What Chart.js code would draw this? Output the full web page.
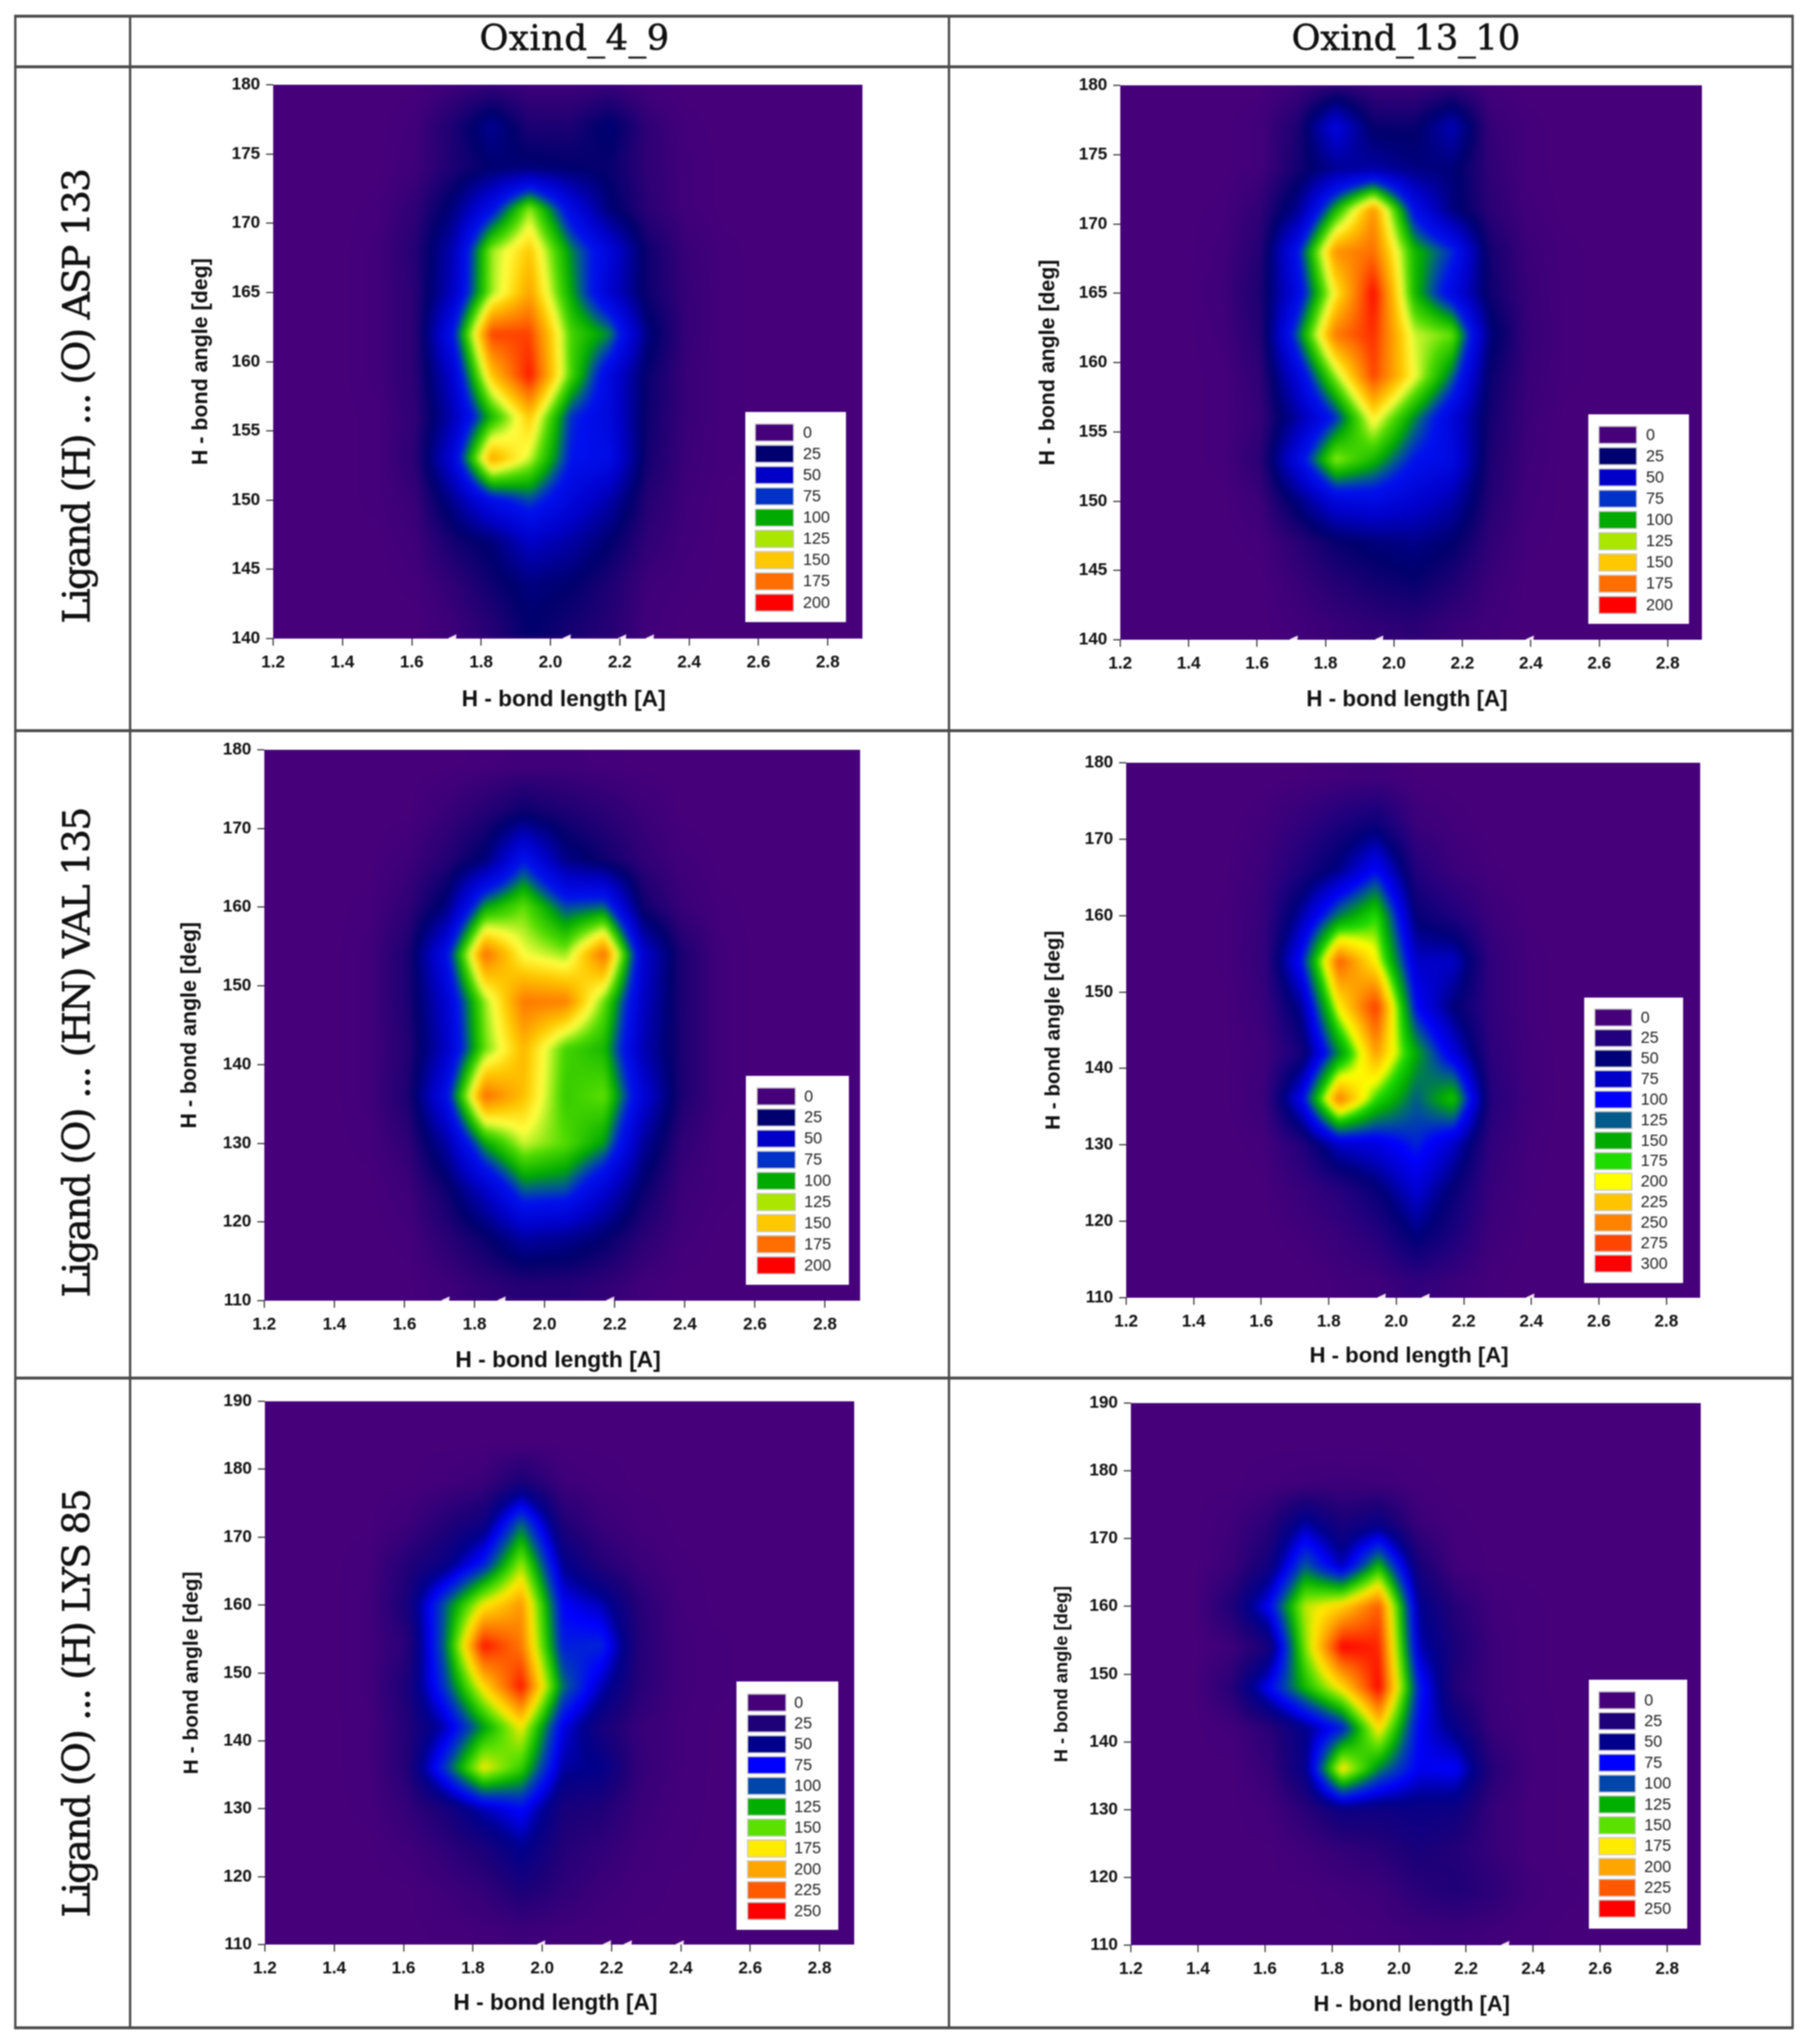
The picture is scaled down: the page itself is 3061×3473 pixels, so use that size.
<!DOCTYPE html>
<html><head><meta charset="utf-8">
<script src="https://cdn.jsdelivr.net/npm/chart.js@4/dist/chart.umd.js"></script>
<style>
html,body{margin:0;padding:0;background:#fff;}
#page{position:relative;width:3061px;height:3473px;overflow:hidden;background:#fff;filter:blur(0.8px);}
canvas{position:absolute;}
.ln{position:absolute;background:#4c4c4c;}
.hd,.rw{position:absolute;font-family:"DejaVu Serif",serif;color:#111;white-space:nowrap;-webkit-text-stroke:0.9px #111;}
</style></head><body><div id="page"></div>
<script>
// ---- data ----
const X_TICKS=[1.2,1.4,1.6,1.8,2.0,2.2,2.4,2.6,2.8];
const Y_TICKS_ASP=[140,145,150,155,160,165,170,175,180];
const Y_TICKS_VAL=[110,120,130,140,150,160,170,180];
const Y_TICKS_LYS=[110,120,130,140,150,160,170,180,190];
const X_NODES=[1.50,1.61,1.72,1.83,1.94,2.06,2.17,2.28,2.39,2.50];
const Y_NODES_ASP=[180,177,174,171,168,165,162,159,156,153,150,147,144,141];
const Y_NODES_VAL=[178,172,166,160,154,148,142,136,130,124,118,112];
const Y_NODES_LYS=[184,178,172,166,160,154,148,142,136,130,124,118,112];

const VALUES_ASP_4_9=[
[0,0,3,6,3,3,4,1,0,0],
[0,2,15,35,15,15,28,8,1,0],
[0,3,15,25,28,25,22,8,2,0],
[1,8,30,70,125,65,28,10,2,0],
[2,12,45,125,150,95,60,20,5,1],
[2,10,50,125,160,100,55,20,6,1],
[2,10,75,185,185,115,95,30,6,1],
[2,10,55,150,195,115,62,22,5,1],
[1,8,45,105,150,80,62,20,5,1],
[1,10,60,160,130,75,68,18,4,1],
[1,5,35,70,85,60,42,12,3,0],
[0,3,18,28,50,40,25,8,2,0],
[0,1,8,20,30,25,15,3,1,0],
[0,0,4,12,25,18,12,2,0,0]];
const VALUES_ASP_13_10=[
[0,0,3,8,4,3,6,1,0,0],
[0,2,15,60,22,22,45,6,1,0],
[0,2,18,35,40,30,28,8,1,0],
[1,8,35,105,165,70,30,10,2,0],
[2,12,75,165,175,105,80,18,4,1],
[3,15,65,140,198,105,65,20,5,1],
[2,12,90,172,190,130,120,30,6,1],
[1,8,60,125,185,135,90,22,5,1],
[1,6,40,80,140,95,60,18,4,0],
[1,10,65,125,105,75,65,15,3,0],
[0,4,30,60,65,55,42,12,2,0],
[0,1,10,22,28,32,25,8,1,0],
[0,0,5,12,18,22,14,4,0,0],
[0,0,2,5,8,10,5,2,0,0]];
const VALUES_VAL_4_9=[
[0,0,0,1,2,2,1,0,0,0],
[0,0,5,12,22,15,10,4,0,0],
[0,3,12,28,75,32,20,8,2,0],
[1,8,30,100,120,85,90,20,5,1],
[2,15,70,175,135,125,175,55,15,2],
[2,15,55,125,172,170,120,50,15,2],
[2,12,50,120,155,115,105,45,15,2],
[2,15,70,175,152,112,120,58,15,2],
[1,8,40,100,130,118,98,38,8,1],
[0,3,20,50,88,85,55,22,4,1],
[0,1,10,22,40,35,25,10,2,0],
[0,0,3,8,12,12,8,2,0,0]];
const VALUES_VAL_13_10=[
[0,0,1,3,5,1,0,0,0,0],
[0,4,15,30,42,8,3,0,0,0],
[1,8,30,55,100,25,8,2,0,0],
[2,12,65,135,175,45,28,8,1,0],
[2,14,105,265,205,75,75,15,3,0],
[1,10,60,205,280,100,50,15,3,0],
[1,5,35,140,240,150,85,18,4,0],
[1,8,95,255,175,125,165,25,5,0],
[0,3,25,75,85,110,75,15,3,0],
[0,1,10,22,45,80,45,10,2,0],
[0,0,3,10,22,52,30,5,1,0],
[0,0,0,3,5,15,8,2,0,0]];
const VALUES_LYS_4_9=[
[0,0,0,0,0,0,0,0,0,0],
[0,0,3,8,30,6,2,0,0,0],
[0,6,22,38,108,25,8,2,0,0],
[2,22,42,85,160,50,22,8,1,0],
[3,30,105,175,205,75,60,20,3,0],
[3,18,110,245,215,85,88,22,4,1],
[3,28,95,180,245,110,60,20,4,1],
[2,22,60,120,175,70,32,10,3,0],
[2,22,95,175,140,55,48,12,3,0],
[1,12,30,60,78,30,25,8,2,0],
[0,4,14,28,50,22,14,4,1,0],
[0,0,5,12,28,15,6,2,0,0],
[0,0,1,3,6,4,2,0,0,0]];
const VALUES_LYS_13_10=[
[0,0,0,0,0,0,0,0,0,0],
[0,2,5,6,5,1,0,0,0,0],
[5,18,58,30,45,8,1,0,0,0],
[8,35,105,60,130,30,3,0,0,0],
[25,75,165,185,225,50,20,4,1,0],
[6,30,155,250,240,60,28,6,1,0],
[20,75,130,180,250,85,22,6,1,0],
[3,18,48,85,180,75,45,8,2,0],
[0,10,45,180,115,72,75,20,3,0],
[0,3,18,40,38,42,38,10,2,0],
[0,0,5,12,18,30,22,10,2,0],
[0,0,0,3,6,18,25,16,4,1],
[0,0,0,0,2,5,6,4,1,0]];

const LEVELS_200=[0,25,50,75,100,125,150,175,200];
const COLORS_200=['#46007a','#00006e','#0000c8','#0032c8','#00aa00','#aae600','#ffc800','#ff6e00','#ff0000'];
const LEVELS_300=[0,25,50,75,100,125,150,175,200,225,250,275,300];
const COLORS_300=['#46007a','#23007d','#000078','#0000c8','#0000ff','#005a8c','#00aa00','#1edc00','#ffff00','#ffc300','#ff8200','#ff4600','#ff0000'];
const LEVELS_250=[0,25,50,75,100,125,150,175,200,225,250];
const COLORS_250=['#46007a','#1e0078','#00008c','#0000ff','#0046aa','#00af00','#5ae100','#ffeb00','#ffa500','#ff5a00','#ff0000'];
const FIELD_LEVELS_200=[0,25,50,75,88,100,118,135,150,175,200];
const FIELD_COLORS_200=['#46007a','#00006e','#0000c8','#0010f0','#005a90','#00aa00','#50dc00','#ffff40','#ffc800','#ff6e00','#ff0000'];

const FLAWS_ASP_4_9=[1.72,2.05,2.21,2.29];
const FLAWS_ASP_13_10=[1.71,1.96,2.40];
const FLAWS_VAL_4_9=[1.72,1.88,2.19];
const FLAWS_VAL_13_10=[1.96,2.09,2.40];
const FLAWS_LYS_4_9=[2.0,2.19,2.25,2.40];
const FLAWS_LYS_13_10=[2.32];

// ---- layout ----
const PANELS=[
 {id:'a',vals:VALUES_ASP_4_9,yn:Y_NODES_ASP,yt:Y_TICKS_ASP,lv:LEVELS_200,col:COLORS_200,fl:FIELD_LEVELS_200,fc:FIELD_COLORS_200,flaws:FLAWS_ASP_4_9,
  r:[464,144,1465,1085],yo:122,xo:104,ys:36.4,xs:38.5,box:[1266,700,1437,1057],sw:[1283,1348],row:[735,1024],lx:1364},
 {id:'b',vals:VALUES_ASP_13_10,yn:Y_NODES_ASP,yt:Y_TICKS_ASP,lv:LEVELS_200,col:COLORS_200,fl:FIELD_LEVELS_200,fc:FIELD_COLORS_200,flaws:FLAWS_ASP_13_10,
  r:[1903,145,2891,1087],yo:122,xo:103,ys:36.2,xs:38,box:[2698,704,2869,1060],sw:[2716,2780],row:[739,1028],lx:2796},
 {id:'c',vals:VALUES_VAL_4_9,yn:Y_NODES_VAL,yt:Y_TICKS_VAL,lv:LEVELS_200,col:COLORS_200,fl:FIELD_LEVELS_200,fc:FIELD_COLORS_200,flaws:FLAWS_VAL_4_9,
  r:[449,1274,1461,2210],yo:126,xo:102,ys:36.3,xs:38.8,box:[1267,1828,1442,2183],sw:[1286,1351],row:[1863,2150],lx:1366},
 {id:'d',vals:VALUES_VAL_13_10,yn:Y_NODES_VAL,yt:Y_TICKS_VAL,lv:LEVELS_300,col:COLORS_300,fl:LEVELS_300,fc:COLORS_300,flaws:FLAWS_VAL_13_10,
  r:[1913,1296,2888,2205],yo:123,xo:100,ys:35,xs:37.6,box:[2691,1695,2859,2180],sw:[2709,2772],row:[1729,2147],lx:2787},
 {id:'e',vals:VALUES_LYS_4_9,yn:Y_NODES_LYS,yt:Y_TICKS_LYS,lv:LEVELS_250,col:COLORS_250,fl:LEVELS_250,fc:COLORS_250,flaws:FLAWS_LYS_4_9,
  r:[450,2381,1451,3304],yo:124,xo:100,ys:35.7,xs:38.5,box:[1251,2857,1424,3279],sw:[1270,1335],row:[2893,3247],lx:1349},
 {id:'f',vals:VALUES_LYS_13_10,yn:Y_NODES_LYS,yt:Y_TICKS_LYS,lv:LEVELS_250,col:COLORS_250,fl:LEVELS_250,fc:COLORS_250,flaws:FLAWS_LYS_13_10,
  r:[1921,2384,2889,3305],yo:117,xo:102,ys:31,xs:37.1,box:[2699,2854,2866,3277],sw:[2716,2778],row:[2889,3243],lx:2793},
];
const page=document.getElementById('page');
const PURPLE='#46007a';
const FONT='"Liberation Sans",Arial,sans-serif';

function hex(c){return [parseInt(c.slice(1,3),16),parseInt(c.slice(3,5),16),parseInt(c.slice(5,7),16)];}
function makeLut(levels,colors){
  const max=levels[levels.length-1],lut=new Uint8ClampedArray(3*(max+1));
  const cs=colors.map(hex);
  for(let v=0;v<=max;v++){
    let i=0;while(i<levels.length-2&&v>levels[i+1])i++;
    const t=(v-levels[i])/(levels[i+1]-levels[i]);
    for(let k=0;k<3;k++)lut[3*v+k]=cs[i][k]+(cs[i+1][k]-cs[i][k])*t;
  }
  return {lut,max};
}
function bracket(nodes,v){ // nodes may be ascending or descending
  const n=nodes.length,asc=nodes[1]>nodes[0];
  const t=asc?v:-v,a=i=>asc?nodes[i]:-nodes[i];
  if(t<=a(0))return [0,0,0];
  if(t>=a(n-1))return [n-1,n-1,0];
  let i=0;while(a(i+1)<t)i++;
  return [i,i+1,(t-a(i))/(a(i+1)-a(i))];
}
const fieldPlugin={id:'field',beforeDatasetsDraw(chart){
  const p=chart.options.plugins.field,{left,top,width,height}=chart.chartArea;
  const X=chart.scales.x,Y=chart.scales.y,{lut,max}=makeLut(p.levels,p.colors);
  const W=Math.round(width),H=Math.round(height);
  const off=document.createElement('canvas');off.width=W;off.height=H;
  const oc=off.getContext('2d'),img=oc.createImageData(W,H),d=img.data;
  // columns fade to the background one node-width outside the read range
  const xn=[X_NODES[0]-0.11,...X_NODES,X_NODES[X_NODES.length-1]+0.11];
  const vals=p.values.map(r=>[0,...r,0]);
  const cols=[];for(let i=0;i<W;i++)cols.push(bracket(xn,X.getValueForPixel(left+i+.5)));
  for(let j=0;j<H;j++){
    const [r0,r1,ty]=bracket(p.yNodes,Y.getValueForPixel(top+j+.5));
    for(let i=0;i<W;i++){
      const [c0,c1,tx]=cols[i];
      const a=vals[r0][c0]*(1-tx)+vals[r0][c1]*tx;
      const b=vals[r1][c0]*(1-tx)+vals[r1][c1]*tx;
      const v=Math.min(max,Math.max(0,Math.round(a*(1-ty)+b*ty)));
      const o=4*(j*W+i);d[o]=lut[3*v];d[o+1]=lut[3*v+1];d[o+2]=lut[3*v+2];d[o+3]=255;
    }
  }
  oc.putImageData(img,0,0);
  const ctx=chart.ctx;ctx.save();
  ctx.beginPath();ctx.rect(left,top,width,height);ctx.clip();
  ctx.fillStyle=PURPLE;ctx.fillRect(left,top,width,height);
  ctx.filter='blur(5px)';ctx.drawImage(off,left,top);
  ctx.restore();
}};
const legendPlugin={id:'boxLegend',afterDraw(chart){
  const p=chart.options.plugins.boxLegend,c=chart.ctx,o=p.origin;
  c.save();
  c.fillStyle='#fff';c.fillRect(p.box[0]-o[0],p.box[1]-o[1],p.box[2]-p.box[0],p.box[3]-p.box[1]);
  const n=p.levels.length,step=(p.row[1]-p.row[0])/(n-1),h=Math.min(29,step-6);
  c.font='27.5px '+FONT;c.textBaseline='middle';c.textAlign='left';
  p.levels.forEach((lv,i)=>{
    const cy=p.row[0]+i*step-o[1];
    c.fillStyle=p.colors[i];c.fillRect(p.sw[0]-o[0],cy-h/2,p.sw[1]-p.sw[0],h);
    c.strokeStyle='#c9c9c9';c.lineWidth=2;c.strokeRect(p.sw[0]-o[0],cy-h/2,p.sw[1]-p.sw[0],h);
    c.fillStyle='#222';c.fillText(String(lv),p.lx-o[0],cy+1);
  });
  c.restore();
}};

const PAD_L=220,PAD_T=30,PAD_R=40,PAD_B=150;
PANELS.forEach(P=>{
  const cv=document.createElement('canvas');
  const W=P.r[2]-P.r[0]+PAD_L+PAD_R,H=P.r[3]-P.r[1]+PAD_T+PAD_B;
  const ox=P.r[0]-PAD_L,oy=P.r[1]-PAD_T;
  cv.style.left=ox+'px';cv.style.top=oy+'px';cv.style.width=W+'px';cv.style.height=H+'px';cv.width=W;cv.height=H;
  page.appendChild(cv);
  const ymin=P.yt[0],ymax=P.yt[P.yt.length-1];
  const nodes=[];P.yn.forEach((y,r)=>X_NODES.forEach((x,c)=>nodes.push({x,y,v:P.vals[r][c]})));
  const tick={color:'#111',font:{family:FONT,size:29,weight:'bold'},autoSkip:false,maxRotation:0};
  const yLH=P.ys*1.2,xLH=P.xs*1.2;
  new Chart(cv,{type:'scatter',
    data:{datasets:[
      {label:'count',data:nodes,pointRadius:0,pointHoverRadius:0,showLine:false},
      {label:'flaw',data:P.flaws.map(x=>({x,y:ymin})),pointStyle:'triangle',pointRadius:9,pointRotation:35,
       backgroundColor:'#f4e6f2',borderWidth:0,showLine:false}
    ]},
    options:{responsive:false,animation:false,devicePixelRatio:1,
      layout:{padding:{left:0,top:PAD_T,right:PAD_R,bottom:0}},
      plugins:{legend:{display:false},tooltip:{enabled:false},
        field:{values:P.vals,yNodes:P.yn,levels:P.fl,colors:P.fc},
        boxLegend:{box:P.box,sw:P.sw,row:P.row,lx:P.lx,levels:P.lv,colors:P.col,origin:[ox,oy]}},
      scales:{
        x:{type:'linear',min:1.2,max:2.9,
          afterBuildTicks:s=>{s.ticks=X_TICKS.map(value=>({value}));},
          afterFit:s=>{s.height=PAD_B;
            if(!s._shifted){s._shifted=true;const orig=s.drawTitle;
              s.drawTitle=function(){const c=this.ctx;c.save();c.translate(-7,0);orig.call(this);c.restore();};}},
          ticks:{...tick,padding:12,callback:v=>v.toFixed(1)},
          grid:{drawOnChartArea:false,drawTicks:true,tickLength:12,color:'#333',lineWidth:2},border:{display:false},
          title:{display:true,text:'H - bond length [A]',color:'#111',font:{family:FONT,size:P.xs,weight:'bold'},padding:PAD_B-P.xo-xLH/2}},
        y:{type:'linear',min:ymin,max:ymax,
          afterBuildTicks:s=>{s.ticks=P.yt.map(value=>({value}));},
          afterFit:s=>{s.width=PAD_L;},
          ticks:{...tick,padding:10},
          grid:{drawOnChartArea:false,drawTicks:true,tickLength:12,color:'#333',lineWidth:2},border:{display:false},
          title:{display:true,text:'H - bond angle [deg]',color:'#111',font:{family:FONT,size:P.ys,weight:'bold'},padding:PAD_L-P.yo-yLH/2}}
      }},
    plugins:[fieldPlugin,legendPlugin]});
});

// ---- table frame and headings ----
function line(x,y,w,h){const d=document.createElement('div');d.className='ln';d.style.cssText=`left:${x}px;top:${y}px;width:${w}px;height:${h}px`;page.appendChild(d);}
[25,111,1239,2339,3443].forEach(y=>line(24,y,3022,5));
[24,219,1610,3043].forEach(x=>line(x,25,4,3422));
const measure=document.createElement('canvas').getContext('2d');
function fit(el,text,size,target){
  measure.font=size+'px "DejaVu Serif"';
  const w=measure.measureText(text).width;
  el.style.letterSpacing=((target-w)/text.length).toFixed(2)+'px';
}
[['Oxind_4_9',976,323],['Oxind_13_10',2388,388]].forEach(([t,cx,w])=>{
  const d=document.createElement('div');d.className='hd';d.textContent=t;
  d.style.fontSize='60px';d.style.left=cx+'px';d.style.top='64px';d.style.transform='translate(-50%,-50%)';
  fit(d,t,60,w);page.appendChild(d);
});
[['Ligand (H) ... (O) ASP 133',674,771],['Ligand (O) ... (HN) VAL 135',1789,831],['Ligand (O) ... (H) LYS 85',2895,726]].forEach(([t,cy,w])=>{
  const d=document.createElement('div');d.className='rw';d.textContent=t;
  d.style.fontSize='64px';d.style.left='130px';d.style.top=cy+'px';d.style.transform='translate(-50%,-50%) rotate(-90deg)';
  fit(d,t,64,w);page.appendChild(d);
});
</script></body></html>
